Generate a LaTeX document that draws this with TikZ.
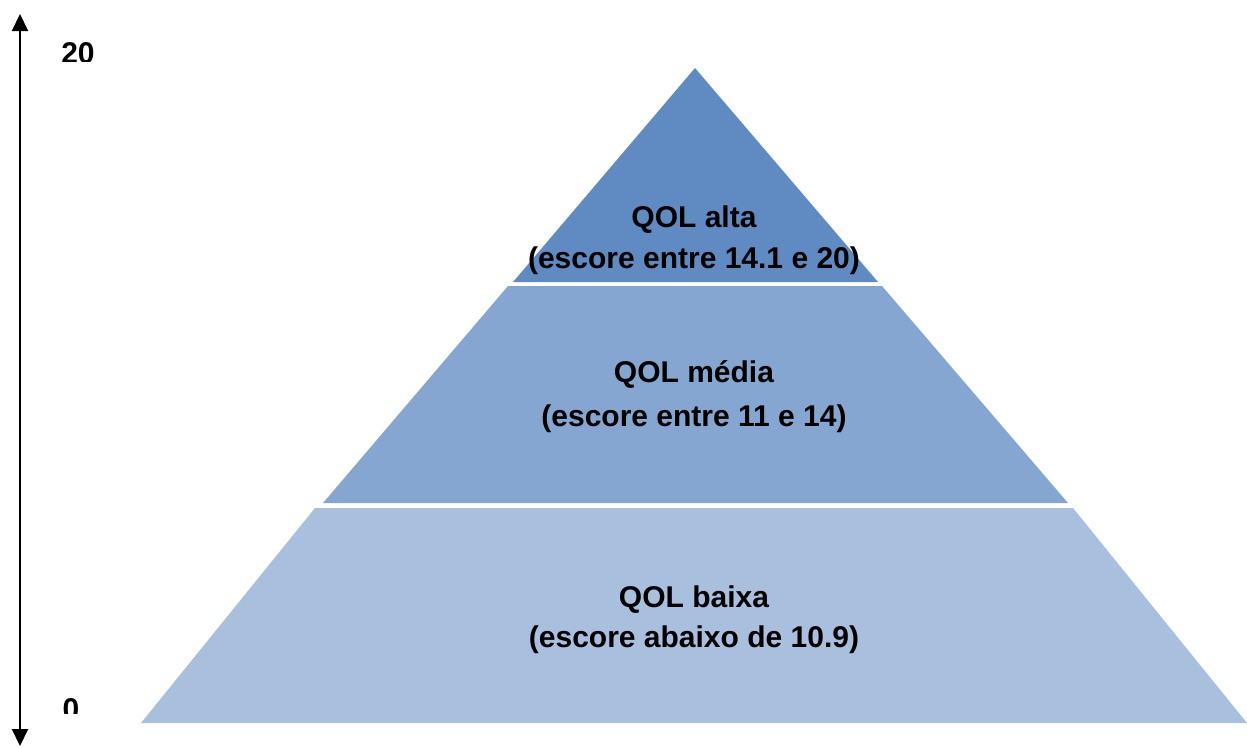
\documentclass[tikz,border=0pt]{standalone}
\usepackage{fontspec}
\setmainfont{Liberation Sans}
\usetikzlibrary{arrows.meta}
\definecolor{tiertop}{RGB}{95,139,194}
\definecolor{tiermid}{RGB}{132,166,208}
\definecolor{tierbot}{RGB}{168,192,222}
\tikzset{
  tierlabel/.style={anchor=base, inner sep=0pt, font=\fontsize{30}{36}\selectfont\bfseries, text=black},
  axislabel/.style={anchor=base, inner sep=0pt, font=\fontsize{30}{36}\selectfont\bfseries, text=black},
  axisline/.style={line width=2pt, {Triangle[length=17pt,width=16pt]}-{Triangle[length=17pt,width=16pt]}}
}
\begin{document}
\begin{tikzpicture}[x=1pt,y=-1pt]
\useasboundingbox (0,0) rectangle (1247,747);
% tiers
\fill[tiertop] (695,68) -- (878,282) -- (513,282) -- cycle;
\fill[tiermid] (508,286) -- (882,286) -- (1068,503) -- (323,503) -- cycle;
\fill[tierbot] (315,508) -- (1073,508) -- (1247,723) -- (141,723) -- cycle;
% labels
\node[tierlabel] (t1) at (694,227) {QOL alta};
\node[tierlabel] (t2) at (694,268) {(escore entre 14.1 e 20)};
\node[tierlabel] (m1) at (694,382) {QOL média};
\node[tierlabel] (m2) at (694,426) {(escore entre 11 e 14)};
\node[tierlabel] (b1) at (694,607) {QOL baixa};
\node[tierlabel] (b2) at (694,647) {(escore abaixo de 10.9)};
% axis
\coordinate (atop) at (20,14);
\coordinate (abot) at (20,746);
\draw[axisline] (abot) -- (atop);
\begin{scope}
\clip (40,30) rectangle (130,61);
\node[axislabel] (v20) at (78,63) {20};
\end{scope}
\begin{scope}
\clip (40,690) rectangle (130,713);
\node[axislabel] (v0) at (71,719) {0};
\end{scope}
\end{tikzpicture}
\end{document}
